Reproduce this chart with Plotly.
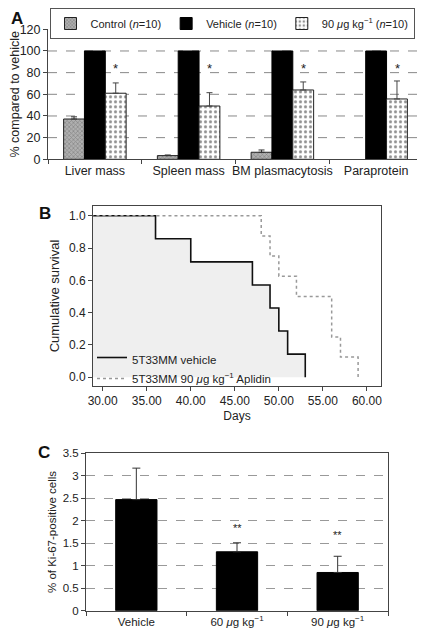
import plotly.graph_objects as go

FONT = "Liberation Sans"

# ---------- Panel A data ----------
a_categories = ["Liver mass", "Spleen mass", "BM plasmacytosis", "Paraprotein"]
a_control = [37.2, 3.4, 6.5, None]
a_control_err = [2.0, 0.6, 2.1, None]
a_vehicle = [100, 100, 100, 100]
a_dose90 = [61, 49.2, 64, 55.7]
a_dose90_err = [9.5, 12.3, 7.4, 16.6]
a_star_y = [84, 84, 84, 84]
a_grid = [20, 40, 60, 80, 100]

# ---------- Panel B data ----------
b_vehicle_days = [0, 36, 40, 47, 49, 50, 51, 53]
b_vehicle_surv = [1.0, 0.857, 0.714, 0.571, 0.429, 0.286, 0.143, 0.0]
b_aplidin_days = [0, 48, 49, 50, 52, 56, 57, 59]
b_aplidin_surv = [1.0, 0.875, 0.75, 0.625, 0.5, 0.25, 0.125, 0.0]

# ---------- Panel C data ----------
c_categories = ["Vehicle", "60 <i>μ</i>g kg<sup>−1</sup>", "90 <i>μ</i>g kg<sup>−1</sup>"]
c_values = [2.47, 1.31, 0.85]
c_err = [0.70, 0.20, 0.36]
c_star_text = ["", "**", "**"]
c_star_y = [None, 1.84, 1.68]

# page body has an 8px margin: figure drawn at (8, 8)
OFF = 8
W, H = 425 - OFF, 633 - OFF


def px_x(px):
    return (px - OFF) / W


def px_y(py):
    return 1 - (py - OFF) / H


fig = go.Figure()

# Panel A bars
fig.add_trace(go.Bar(
    x=a_categories, y=a_control, name="Control (<i>n</i>=10)",
    marker=dict(color="#9a9a9a", line=dict(color="#222", width=1),
                pattern=dict(shape="x", fgcolor="#5a5a5a", bgcolor="#b0b0b0", size=3, solidity=0.4)),
    error_y=dict(type="data", array=a_control_err, arrayminus=[0]*4, symmetric=False,
                 color="#333", thickness=1, width=3),
    xaxis="x", yaxis="y", legend="legend"))
fig.add_trace(go.Bar(
    x=a_categories, y=a_vehicle, name="Vehicle (<i>n</i>=10)",
    marker=dict(color="#000", line=dict(color="#000", width=1)),
    xaxis="x", yaxis="y", legend="legend"))
fig.add_trace(go.Bar(
    x=a_categories, y=a_dose90, name="90 <i>μ</i>g kg<sup>−1</sup> (<i>n</i>=10)",
    marker=dict(color="#fff", line=dict(color="#222", width=1),
                pattern=dict(shape=".", fgcolor="#222", bgcolor="#fff", size=5, solidity=0.3)),
    error_y=dict(type="data", array=a_dose90_err, arrayminus=[0]*4, symmetric=False,
                 color="#444", thickness=1, width=3),
    xaxis="x", yaxis="y", legend="legend"))

# Panel B survival curves
fig.add_trace(go.Scatter(
    x=b_vehicle_days, y=b_vehicle_surv, mode="lines", line_shape="hv",
    line=dict(color="#111", width=1.6), fill="tozeroy", fillcolor="#efefef",
    name="5T33MM vehicle", xaxis="x2", yaxis="y2", legend="legend2"))
fig.add_trace(go.Scatter(
    x=b_aplidin_days, y=b_aplidin_surv, mode="lines", line_shape="hv",
    line=dict(color="#999", width=1.5, dash="dot"),
    name="5T33MM 90 <i>μ</i>g kg<sup>−1</sup> Aplidin", xaxis="x2", yaxis="y2", legend="legend2"))

# Panel C bars
fig.add_trace(go.Bar(
    x=c_categories, y=c_values, width=0.41,
    marker=dict(color="#000", line=dict(color="#000", width=1)),
    error_y=dict(type="data", array=c_err, arrayminus=[0]*3, symmetric=False,
                 color="#333", thickness=1, width=4),
    showlegend=False, xaxis="x3", yaxis="y3"))

shapes = []
for g in a_grid:
    shapes.append(dict(type="line", xref="x domain", yref="y", x0=0, x1=1, y0=g, y1=g,
                       line=dict(color="#888", width=1, dash="dash"), layer="below"))

annotations = []
for cat, sy in zip(a_categories, a_star_y):
    annotations.append(dict(x=cat, y=sy, xref="x", yref="y", text="*", showarrow=False,
                            xshift=21, font=dict(size=13, color="#222")))
for cat, t, sy in zip(c_categories, c_star_text, c_star_y):
    if t:
        annotations.append(dict(x=cat, y=sy, xref="x3", yref="y3", text=t, showarrow=False,
                                font=dict(size=11, color="#222")))
for lbl, px, py in [("A", 8.5, 18), ("B", 37, 213), ("C", 36, 452)]:
    annotations.append(dict(x=px_x(px), y=px_y(py), xref="paper", yref="paper", text="<b>%s</b>" % lbl,
                            showarrow=False, font=dict(size=17, color="#111"),
                            xanchor="left", yanchor="middle"))


def ax(size=12, **kw):
    d = dict(showline=True, linecolor="#444", linewidth=1, ticks="outside", ticklen=4,
             tickcolor="#444", zeroline=False, automargin=False,
             tickfont=dict(size=size, color="#222"))
    d.update(kw)
    return d


fig.update_layout(
    width=W, height=H, margin=dict(l=0, r=0, t=0, b=0, autoexpand=False),
    paper_bgcolor="#fff", plot_bgcolor="#fff",
    font=dict(family=FONT, color="#222"),
    barmode="group", bargap=0.333, bargroupgap=0,
    xaxis=ax(12.5, domain=[px_x(48), px_x(423)], anchor="y", type="category", tickson="boundaries",
             tickangle=0, showgrid=False),
    yaxis=ax(12.5, domain=[px_y(159.3), px_y(29.3)], anchor="x", range=[0, 120], dtick=20, showgrid=False,
             title=dict(text="% compared to vehicle", font=dict(size=12.5), standoff=3)),
    xaxis2=ax(12, domain=[px_x(93), px_x(381)], anchor="y2", range=[28.9, 61.6], tick0=30, dtick=5,
              tickformat=".2f", mirror=True, showgrid=False,
              title=dict(text="Days", font=dict(size=12), standoff=4)),
    yaxis2=ax(12, domain=[px_y(386), px_y(206)], anchor="x2", range=[-0.054, 1.06], dtick=0.2,
              tickformat=".1f", mirror=True, showgrid=False,
              title=dict(text="Cumulative survival", font=dict(size=13), standoff=6)),
    xaxis3=ax(11.5, domain=[px_x(86), px_x(388)], anchor="y3", type="category", tickson="boundaries",
              tickangle=0, mirror=True, showgrid=False),
    yaxis3=ax(11.5, domain=[px_y(610.7), px_y(453.3)], anchor="x3", range=[0, 3.5], dtick=0.5, mirror=True,
              showgrid=True, gridcolor="#999", griddash="dash", gridwidth=1,
              title=dict(text="% of Ki-67-positive cells", font=dict(size=11.5), standoff=3)),
    legend=dict(orientation="h", x=px_x(232), xanchor="center", y=1.0, yanchor="top",
                bordercolor="#555", borderwidth=1, bgcolor="#fff",
                font=dict(size=11, color="#222"), traceorder="normal", itemwidth=30),
    legend2=dict(x=px_x(92), xanchor="left", y=px_y(345), yanchor="top", bgcolor="rgba(0,0,0,0)",
                 font=dict(size=11.5, color="#222"), tracegroupgap=0, itemwidth=30),
    shapes=shapes, annotations=annotations,
)

fig.write_html("out.html")
